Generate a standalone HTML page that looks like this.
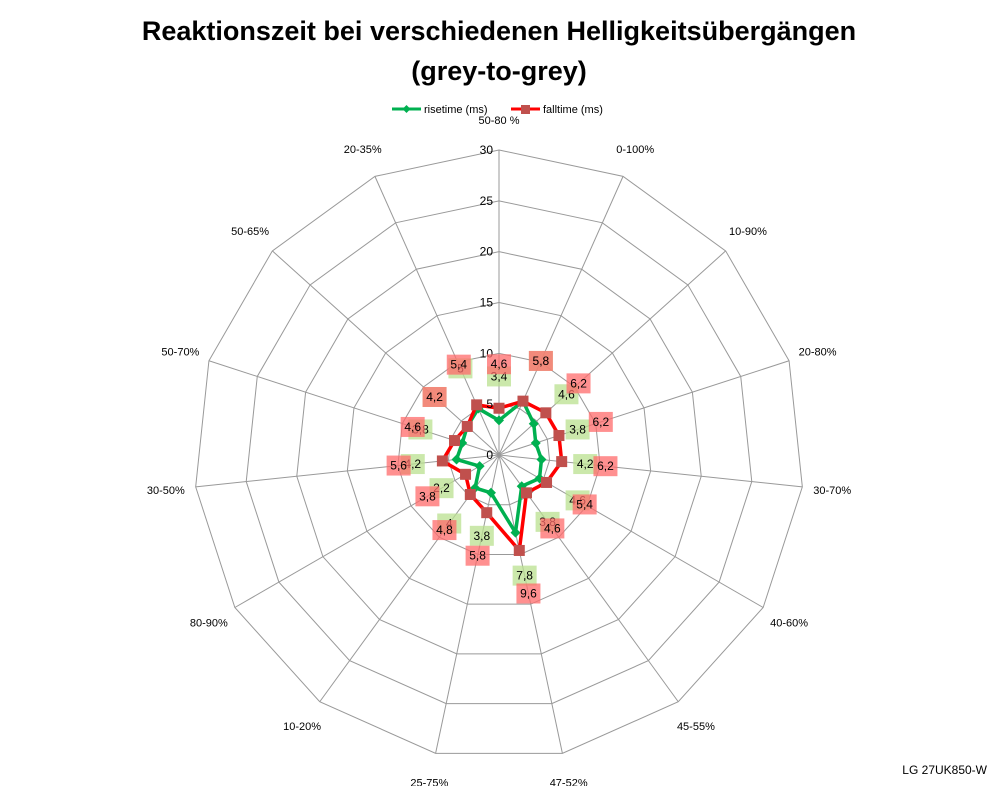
<!DOCTYPE html>
<html><head><meta charset="utf-8"><style>
body{margin:0;background:#fff;font-family:"Liberation Sans",sans-serif}
svg{display:block}
</style></head><body>
<svg id="chart" width="998" height="786" viewBox="0 0 998 786" xmlns="http://www.w3.org/2000/svg">
<text x="499" y="40" text-anchor="middle" font-size="27" font-weight="bold">Reaktionszeit bei verschiedenen Helligkeitsübergängen</text>
<text x="499" y="80" text-anchor="middle" font-size="27" font-weight="bold">(grey-to-grey)</text>
<g>
<g><line x1="392" y1="109" x2="421" y2="109" stroke="#00b050" stroke-width="3"/><path d="M406.5 105 L410.5 109 L406.5 113 L402.5 109Z" fill="#00b050"/><text x="424" y="113" font-size="11">risetime (ms)</text></g>
<g><line x1="511" y1="109" x2="540" y2="109" stroke="#ff0000" stroke-width="3"/><rect x="521" y="105" width="9" height="9" fill="#c0504d"/><text x="543" y="113" font-size="11">falltime (ms)</text></g>
</g>
<g id="grid"></g><g id="series"></g><g id="labels"></g>
<text x="987" y="774" text-anchor="end" font-size="12">LG 27UK850-W</text>
</svg>
<script>
const categories=["50-80 %","0-100%","10-90%","20-80%","30-70%","40-60%","45-55%","47-52%","25-75%","10-20%","80-90%","30-50%","50-70%","50-65%","20-35%"];
const risetime=[3.4,5.8,4.6,3.8,4.2,4.6,3.8,7.8,3.8,4,2.2,4.2,3.8,4.2,5];
const falltime=[4.6,5.8,6.2,6.2,6.2,5.4,4.6,9.6,5.8,4.8,3.8,5.6,4.6,4.2,5.4];
const ticks=[0,5,10,15,20,25,30];
const NS="http://www.w3.org/2000/svg";
const cx=499,cy=455,R=305,maxV=30;
function ang(i){return (-90+i*360/categories.length)*Math.PI/180;}
function pt(i,v){const a=ang(i),r=v/maxV*R;return [cx+r*Math.cos(a),cy+r*Math.sin(a)];}
function mk(tag,attrs,parent){const e=document.createElementNS(NS,tag);for(const k in attrs)e.setAttribute(k,attrs[k]);parent.appendChild(e);return e;}
const grid=document.getElementById('grid'),series=document.getElementById('series'),labels=document.getElementById('labels');
ticks.forEach(t=>{if(t===0)return;const p=categories.map((c,i)=>pt(i,t).join(',')).join(' ');
const g=mk('polygon',{points:p,fill:'none',stroke:'#999','stroke-width':1},grid);

});
categories.forEach((c,i)=>{const [x,y]=pt(i,maxV);const l=mk('line',{x1:cx,y1:cy,x2:x,y2:y,stroke:'#999','stroke-width':1},grid);


const a=ang(i),r=R+30;const tx=mk('text',{x:cx+r*Math.cos(a),y:cy+r*Math.sin(a)+4,'text-anchor':'middle','font-size':11},labels);tx.textContent=c;

});
ticks.forEach(t=>{const tx=mk('text',{x:cx-6,y:cy-t/maxV*R+4,'text-anchor':'end','font-size':12},labels);tx.textContent=t;

});
function drawSeries(vals,color,marker,name,lblColor){
const p=vals.map((v,i)=>pt(i,v).join(',')).join(' ');
const pl=mk('polygon',{points:p,fill:'none',stroke:color,'stroke-width':3.5,'stroke-linejoin':'round'},series);


vals.forEach((v,i)=>{const [x,y]=pt(i,v);let m;
if(marker==='d'){m=mk('path',{d:`M${x} ${y-5}L${x+5} ${y}L${x} ${y+5}L${x-5} ${y}Z`,fill:color},series);}
else{m=mk('rect',{x:x-5.5,y:y-5.5,width:11,height:11,fill:'#c0504d'},series);}


const a=ang(i),r=v/maxV*R+44;const lx=cx+r*Math.cos(a),ly=cy+r*Math.sin(a);
const b=mk('rect',{x:lx-12,y:ly-10,width:24,height:20,fill:lblColor,opacity:0.75},labels);


const t=mk('text',{x:lx,y:ly+4,'text-anchor':'middle','font-size':12},labels);t.textContent=String(v).replace('.',',');

});}
drawSeries(risetime,'#00b050','d','risetime','#b9e08f');
drawSeries(falltime,'#ff0000','s','falltime','#ff6b6b');
</script>
</body></html>
